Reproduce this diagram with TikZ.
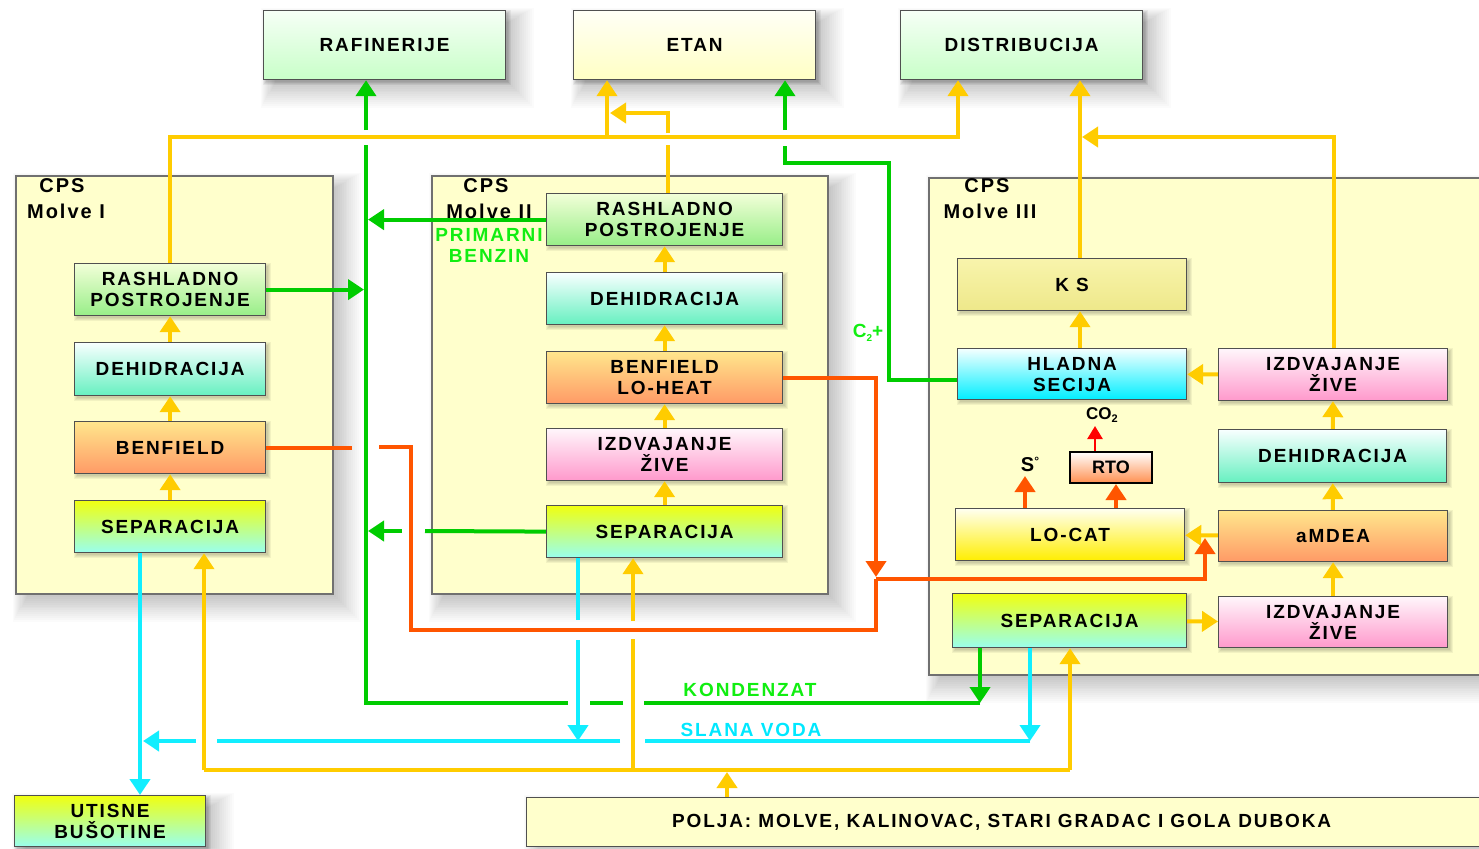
\documentclass[tikz,border=0pt]{standalone}
\usepackage{fontspec}
\setmainfont{Liberation Sans}
\newfontfamily\lbl[LetterSpace=10]{Liberation Sans}
\newfontfamily\plainf{Liberation Sans}
\usetikzlibrary{arrows.meta,calc}
\pgfdeclarelayer{back}\pgfdeclarelayer{cont}\pgfdeclarelayer{lines}
\pgfsetlayers{back,cont,lines,main}
\definecolor{yel}{HTML}{FFCC00}
\definecolor{grn}{HTML}{00CC00}
\definecolor{lgrn}{HTML}{11EE11}
\definecolor{cyn}{HTML}{11EEFF}
\definecolor{lcyn}{HTML}{00E8FF}
\definecolor{org}{HTML}{FF5500}
\definecolor{boxbd}{HTML}{505050}
\definecolor{contbd}{HTML}{707070}
\definecolor{contfill}{HTML}{FFFFCC}
\definecolor{rashT}{HTML}{F2FFD8}\definecolor{rashB}{HTML}{98EE88}
\definecolor{dehT}{HTML}{F8FFFF}\definecolor{dehB}{HTML}{66F0C0}
\definecolor{benT}{HTML}{FFE68C}\definecolor{benB}{HTML}{FF9A66}
\definecolor{izT}{HTML}{FFF6FB}\definecolor{izB}{HTML}{FF99CC}
\definecolor{sepT}{HTML}{F0FF10}\definecolor{sepB}{HTML}{99FFEE}
\definecolor{hlT}{HTML}{F4FFFF}\definecolor{hlB}{HTML}{00EEFF}
\definecolor{ksT}{HTML}{F8F4AC}\definecolor{ksB}{HTML}{EEE88A}
\definecolor{lcT}{HTML}{FFFFF0}\definecolor{lcB}{HTML}{FFEE00}
\definecolor{rtoT}{HTML}{FFFFFF}\definecolor{rtoB}{HTML}{FF9050}
\definecolor{tgT}{HTML}{F6FFF6}\definecolor{tgB}{HTML}{C8FFC8}
\definecolor{tyT}{HTML}{FFFFF6}\definecolor{tyB}{HTML}{FFFFC4}
\tikzset{
  ln/.style={line width=4pt},
  yl/.style={ln,draw=yel},
  gl/.style={ln,draw=grn},
  cl/.style={ln,draw=cyn},
  ol/.style={ln,draw=org},
  tip/.style={-{Triangle[width=20pt,length=16pt]}},
  box/.style={draw=boxbd,line width=1.2pt,anchor=north west,inner sep=0pt,align=center,
    font=\lbl\bfseries\fontsize{19}{21}\selectfont,text=black},
  contbox/.style={draw=contbd,line width=1.5pt,fill=contfill,anchor=north west,inner sep=0pt},
  cpslab/.style={font=\lbl\bfseries\fontsize{20}{20}\selectfont,text=black,inner sep=0pt},
  flowlab/.style={font=\lbl\bfseries\fontsize{19}{19}\selectfont,inner sep=0pt},
}
\newcommand{\smshad}[4]{\foreach \k in {0,1,2,3}{\fill[black,opacity=0.05] (#1+3-\k,#2+3-\k) rectangle (#3+3+\k,#4+3+\k);}}
\newcommand{\bgshad}[4]{\foreach \k in {0,...,13}{\fill[black,opacity=0.016] (#1+12-\k*1.1,#2+12-\k*1.1) rectangle (#3+4+\k*1.9,#4+4+\k*1.9);}}
\newcommand{\bx}[8]{%
  \begin{pgfonlayer}{cont}\smshad{#2}{#3}{#4}{#5}\end{pgfonlayer}%
  \pgfmathsetmacro\bw{#4-#2}\pgfmathsetmacro\bh{#5-#3}%
  \node[box,top color=#6,bottom color=#7,minimum width=\bw pt,minimum height=\bh pt] (#1) at (#2,#3) {#8};}
\begin{document}
\begin{tikzpicture}[x=1pt,y=-1pt]
\useasboundingbox (0,0) rectangle (1479,848);
\clip (0,0) rectangle (1479,848);
\begin{pgfonlayer}{back}
\fill[white] (0,0) rectangle (1479,848);
\bgshad{15}{175}{332}{593}
\bgshad{431}{175}{827}{593}
\bgshad{928}{177}{1490}{674}
\bgshad{263}{10}{505}{79}
\bgshad{573}{10}{815}{79}
\bgshad{900}{10}{1142}{79}
\bgshad{14}{795}{205}{846}
\bgshad{526}{797}{1490}{846}
\end{pgfonlayer}
% containers
\begin{pgfonlayer}{cont}
\node[contbox,minimum width=317pt,minimum height=418pt] (c1) at (15,175) {};
\node[contbox,minimum width=396pt,minimum height=418pt] (c2) at (431,175) {};
\node[contbox,minimum width=560pt,minimum height=497pt] (c3) at (928,177) {};
\end{pgfonlayer}
% top boxes
\bx{raf}{263}{10}{505}{79}{tgT}{tgB}{RAFINERIJE}
\bx{etan}{573}{10}{815}{79}{tyT}{tyB}{ETAN}
\bx{dist}{900}{10}{1142}{79}{tgT}{tgB}{DISTRIBUCIJA}
% Molve I
\bx{r1}{74}{263}{265}{315}{rashT}{rashB}{RASHLADNO\\POSTROJENJE}
\bx{d1}{74}{342}{265}{395}{dehT}{dehB}{DEHIDRACIJA}
\bx{b1}{74}{421}{265}{473}{benT}{benB}{BENFIELD}
\bx{s1}{74}{500}{265}{552}{sepT}{sepB}{SEPARACIJA}
% Molve II
\bx{r2}{546}{193}{782}{245}{rashT}{rashB}{RASHLADNO\\POSTROJENJE}
\bx{d2}{546}{272}{782}{324}{dehT}{dehB}{DEHIDRACIJA}
\bx{b2}{546}{351}{782}{403}{benT}{benB}{BENFIELD\\LO-HEAT}
\bx{i2}{546}{428}{782}{480}{izT}{izB}{IZDVAJANJE\\ŽIVE}
\bx{s2}{546}{505}{782}{557}{sepT}{sepB}{SEPARACIJA}
% Molve III
\bx{ks}{957}{258}{1186}{310}{ksT}{ksB}{K S}
\bx{hl}{957}{348}{1186}{399}{hlT}{hlB}{HLADNA\\SECIJA}
\bx{iza}{1218}{348}{1447}{400}{izT}{izB}{IZDVAJANJE\\ŽIVE}
\bx{de3}{1218}{429}{1446}{482}{dehT}{dehB}{DEHIDRACIJA}
\bx{am}{1218}{510}{1447}{561}{benT}{benB}{aMDEA}
\bx{lc}{955}{508}{1184}{560}{lcT}{lcB}{LO-CAT}
\bx{s3}{952}{593}{1186}{647}{sepT}{sepB}{SEPARACIJA}
\bx{izb}{1218}{596}{1447}{647}{izT}{izB}{IZDVAJANJE\\ŽIVE}
\node[draw=black,line width=2pt,anchor=north west,inner sep=0pt,top color=rtoT,bottom color=rtoB,
  minimum width=82pt,minimum height=31pt,font=\plainf\bfseries\fontsize{18}{18}\selectfont] (rto) at (1069,451) {RTO};
% bottom boxes
\bx{utis}{14}{795}{205}{846}{sepT}{sepB}{UTISNE\\BUŠOTINE}
\node[box,fill=contfill,minimum width=960pt,minimum height=49pt] (polja) at (526,797) {\hspace*{-10pt}POLJA: MOLVE, KALINOVAC, STARI GRADAC I GOLA DUBOKA};
% labels
\node[cpslab] at (62,186) {CPS};
\node[cpslab] at (66,211) {Molve I};
\node[cpslab] at (486,186) {CPS};
\node[cpslab] at (489,211) {Molve II};
\node[cpslab] at (987,186) {CPS};
\node[cpslab] at (990,211) {Molve III};
\node[flowlab,text=lgrn] at (489,235) {PRIMARNI};
\node[flowlab,text=lgrn] at (489,256) {BENZIN};
\node[flowlab,text=lgrn] at (750,690) {KONDENZAT};
\node[flowlab,text=lcyn] at (751,730) {SLANA VODA};
\node[text=lgrn,inner sep=0pt,font=\plainf\bfseries\fontsize{19}{19}\selectfont] (c2lab) at (868,333) {C\raisebox{-4pt}{\fontsize{10}{10}\selectfont 2}+};
\node[inner sep=0pt,font=\plainf\bfseries\fontsize{17}{17}\selectfont] (co2) at (1102,415) {CO\raisebox{-3pt}{\fontsize{11}{11}\selectfont 2}};
\node[inner sep=0pt,font=\plainf\bfseries\fontsize{20}{20}\selectfont] (sgr) at (1030,464) {S\raisebox{6pt}{\fontsize{12}{12}\selectfont °}};
% lines
\begin{pgfonlayer}{lines}
% internal yellow arrows
\draw[yl,tip] (s1) -- (b1);
\draw[yl,tip] (b1) -- (d1);
\draw[yl,tip] (d1) -- (r1);
\draw[yl,tip] (s2) -- (i2);
\draw[yl,tip] (i2) -- (b2);
\draw[yl,tip] (b2) -- (d2);
\draw[yl,tip] (d2) -- (r2);
\draw[yl,tip] (izb) -- (am);
\draw[yl,tip] (am) -- (de3);
\draw[yl,tip] (de3) -- (iza);
\draw[yl,tip] (iza) -- (hl);
\draw[yl,tip] (am) -- (lc);
\draw[yl,tip] (s3) -- (izb);
\draw[yl,tip] (hl.north -| 1080,0) -- (ks.south -| 1080,0);
% yellow to top
\draw[yl,tip] (r1.north) |- (958,137) -- (dist.south -| 958,0);
\draw[yl,tip] (607,137) -- (etan.south -| 607,0);
\draw[yl] (r2.north -| 668,0) -- (668,145);
\draw[yl,tip] (668,133) |- (610,113);
\draw[yl,tip] (ks.north -| 1080,0) -- (dist.south -| 1080,0);
\draw[yl,tip] (iza.north -| 1334,0) |- (1082,137);
% yellow supply from fields
\draw[yl,tip] (polja.north -| 727,0) -- (727,772);
\draw[yl] (204,770) -- (1070,770);
\draw[yl,tip] (204,770) -- (s1.south -| 204,0);
\draw[yl,tip] (1070,770) -- (s3.south -| 1070,0);
\draw[yl] (633,770) -- (633,639);
\draw[yl,tip] (633,621) -- (s2.south -| 633,0);
% green
\draw[gl,tip] (s3.south -| 980,0) -- (980,703);
\draw[gl] (980,703) -- (644,703);
\draw[gl] (623,703) -- (590,703);
\draw[gl] (568,703) -| (366,145);
\draw[gl,tip] (366,130) -- (raf.south -| 366,0);
\draw[gl,tip] (r1.east) -- (r1.east -| 364,0);
\draw[gl,tip] (r2.west) -- (r2.west -| 368,0);
\draw[gl] (s2.west) -- (425,531);
\draw[gl,tip] (402,531) -- (368,531);
\draw[gl] (hl.west |- 0,380) -| (889,163) -| (785,146);
\draw[gl,tip] (785,130) -- (etan.south -| 785,0);
% cyan
\draw[cl,tip] (s1.south -| 140,0) -- (utis.north -| 140,0);
\draw[cl] (1030,741) -- (645,741);
\draw[cl] (620,741) -- (217,741);
\draw[cl,tip] (196,741) -- (143,741);
\draw[cl,tip] (s3.south -| 1030,0) -- (1030,741);
\draw[cl] (s2.south -| 578,0) -- (578,620);
\draw[cl,tip] (578,640) -- (578,741);
% orange
\draw[ol,tip] (b2.east) -| (876,577);
\draw[ol] (b1.east) -- (b1.east -| 352,0);
\draw[ol] (379,447) -| (411,630) -| (876,579);
\draw[ol,tip] (876,579) -| (1205,538);
\draw[ol,tip] (lc.north -| 1025,0) -- (1025,476);
\draw[ol,tip] (lc.north -| 1116,0) -- (rto.south -| 1116,0);
\draw[draw=red,line width=2.5pt,-{Triangle[width=15pt,length=13pt]}] (rto.north -| 1095,0) -- (1095,426);
\end{pgfonlayer}
\end{tikzpicture}
\end{document}
